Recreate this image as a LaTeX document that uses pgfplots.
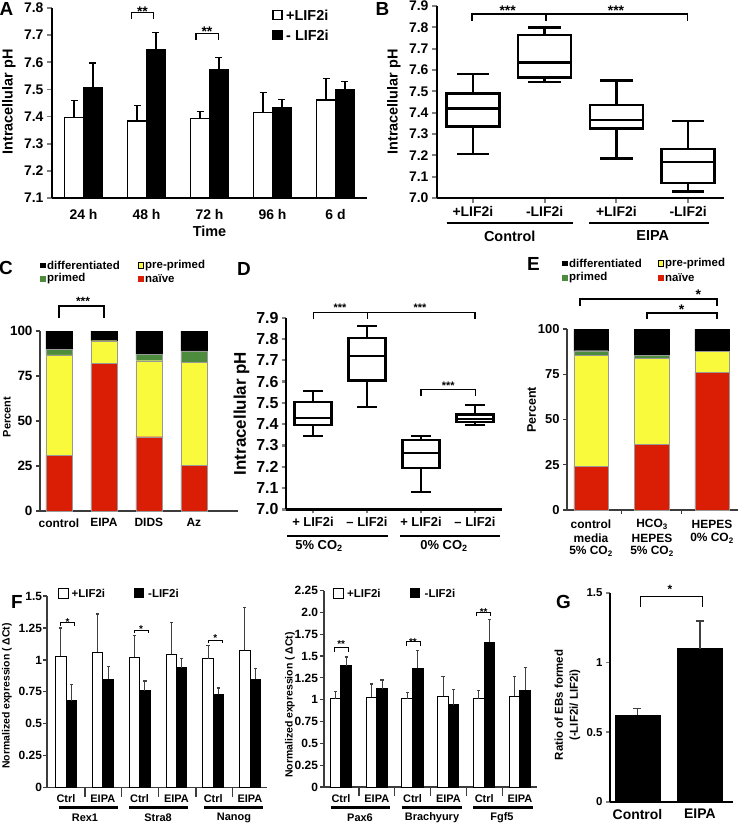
\documentclass[border=0pt]{standalone}
\usepackage{fontspec}
\setmainfont{Liberation Sans}
\usepackage{pgfplots}
\pgfplotsset{compat=1.18}
\newcommand\fs[1]{\fontsize{#1}{#1}\selectfont\bfseries}
\definecolor{naive}{RGB}{218,30,6}
\definecolor{preprimed}{RGB}{250,250,60}
\definecolor{primed}{RGB}{76,140,60}
\definecolor{axgray}{RGB}{60,60,60}
\pgfplotsset{
  panel/.style={scale only axis, anchor=south west, clip mode=individual,
    axis x line*=bottom, axis y line*=left, tick align=outside,
    major tick length=5bp, enlargelimits=false},
  boxline/.style={draw=black, line width=2.4bp, line cap=rect, line join=miter, mark=none},
}
\begin{document}
\begin{tikzpicture}
\useasboundingbox (0,0) rectangle (752bp,-824bp);

%% ---------- A ----------
\begin{axis}[panel, at={(52bp,-198bp)}, width=315bp, height=190bp,
  xmin=-0.5, xmax=4.5, ymin=7.1, ymax=7.8, ybar, bar width=0.3,
  xtick={0,1,2,3,4}, xticklabels={24 h,48 h,72 h,96 h,6 d},
  xtick style={draw=none},
  ytick={7.1,7.2,7.3,7.4,7.5,7.6,7.7,7.8},
  yticklabels={7.1,7.2,7.3,7.4,7.5,7.6,7.7,7.8},
  axis line style={-, line width=1.6bp}, ytick style={line width=1.6bp},
  tick label style={font=\fs{14}}, xticklabel style={yshift=-3bp}]
\addplot[fill=white, draw=black, line width=1.3bp, bar shift=-0.15,
  error bars/.cd, y dir=plus, y explicit, error bar style={line width=1.3bp},
  error mark options={rotate=90, mark size=3.5bp, line width=1.3bp}]
coordinates {(0,7.397) +- (0,0.061) (1,7.384) +- (0,0.057) (2,7.392) +- (0,0.026)
  (3,7.415) +- (0,0.073) (4,7.461) +- (0,0.078)};
\addplot[fill=black, draw=black, line width=1.3bp, bar shift=0.15,
  error bars/.cd, y dir=plus, y explicit, error bar style={line width=1.3bp},
  error mark options={rotate=90, mark size=3.5bp, line width=1.3bp}]
coordinates {(0,7.508) +- (0,0.089) (1,7.647) +- (0,0.064) (2,7.572) +- (0,0.046)
  (3,7.432) +- (0,0.031) (4,7.498) +- (0,0.031)};
\end{axis}

%% ---------- B ----------
\begin{axis}[panel, at={(437bp,-198bp)}, width=287bp, height=192bp,
  xmin=-0.5, xmax=3.5, ymin=7.0, ymax=7.9, unbounded coords=jump,
  xtick={0,1,2,3}, xticklabels={+LIF2i,-LIF2i,+LIF2i,-LIF2i},
  ytick={7.0,7.1,7.2,7.3,7.4,7.5,7.6,7.7,7.8,7.9},
  yticklabels={7.0,7.1,7.2,7.3,7.4,7.5,7.6,7.7,7.8,7.9},
  axis line style={-, line width=2.2bp}, tick style={line width=2.2bp},
  tick label style={font=\fs{14}}]
% whiskers, caps, box and median of each group
\addplot[boxline] coordinates {(0,7.205) (0,7.335) (nan,nan) (-0.21,7.205) (0.21,7.205) (nan,nan)
  (0,7.49) (0,7.58) (nan,nan) (-0.21,7.58) (0.21,7.58) (nan,nan)
  (-0.37,7.335) (0.37,7.335) (0.37,7.49) (-0.37,7.49) (-0.37,7.335) (nan,nan) (-0.37,7.42) (0.37,7.42)};
\addplot[boxline] coordinates {(1,7.545) (1,7.565) (nan,nan) (0.79,7.545) (1.21,7.545) (nan,nan)
  (1,7.765) (1,7.80) (nan,nan) (0.79,7.80) (1.21,7.80) (nan,nan)
  (0.63,7.565) (1.37,7.565) (1.37,7.765) (0.63,7.765) (0.63,7.565) (nan,nan) (0.63,7.635) (1.37,7.635)};
\addplot[boxline] coordinates {(2,7.185) (2,7.325) (nan,nan) (1.79,7.185) (2.21,7.185) (nan,nan)
  (2,7.435) (2,7.55) (nan,nan) (1.79,7.55) (2.21,7.55) (nan,nan)
  (1.63,7.325) (2.37,7.325) (2.37,7.435) (1.63,7.435) (1.63,7.325) (nan,nan) (1.63,7.365) (2.37,7.365)};
\addplot[boxline] coordinates {(3,7.03) (3,7.07) (nan,nan) (2.79,7.03) (3.21,7.03) (nan,nan)
  (3,7.23) (3,7.36) (nan,nan) (2.79,7.36) (3.21,7.36) (nan,nan)
  (2.63,7.07) (3.37,7.07) (3.37,7.23) (2.63,7.23) (2.63,7.07) (nan,nan) (2.63,7.17) (3.37,7.17)};
\end{axis}

%% ---------- C ----------
\begin{axis}[panel, at={(40bp,-511bp)}, width=198bp, height=180bp,
  xmin=-0.42, xmax=3.98, ymin=0, ymax=100, ybar stacked, bar width=0.58,
  xtick={0,1,2,3}, xticklabels={control,EIPA,DIDS,Az}, xtick style={draw=none},
  ytick={0,25,50,75,100}, yticklabels={0,25,50,75,100},
  axis line style={-, line width=1.5bp, axgray}, ytick style={line width=1.5bp, axgray},
  major tick length=4bp,
  yticklabel style={font=\fs{13.5}}, xticklabel style={font=\fs{12}}]
\addplot[fill=naive, draw=black!40, line width=0.3bp] coordinates {(0,31) (1,82) (2,41.3) (3,25.5)};
\addplot[fill=preprimed, draw=black!40, line width=0.3bp] coordinates {(0,55.7) (1,12.6) (2,42.2) (3,57.1)};
\addplot[fill=primed, draw=black!40, line width=0.3bp] coordinates {(0,3.1) (1,0) (2,3.7) (3,6.4)};
\addplot[fill=black, draw=black, line width=0.3bp] coordinates {(0,10.2) (1,5.4) (2,12.8) (3,11)};
\end{axis}

%% ---------- D ----------
\begin{axis}[panel, at={(286bp,-509.3bp)}, width=216bp, height=191.6bp,
  xmin=-0.5, xmax=3.5, ymin=7.0, ymax=7.9, unbounded coords=jump,
  xtick={0,1,2,3}, xticklabels={+ LIF2i,– LIF2i,+ LIF2i,– LIF2i},
  ytick={7.0,7.1,7.2,7.3,7.4,7.5,7.6,7.7,7.8,7.9},
  yticklabels={7.0,7.1,7.2,7.3,7.4,7.5,7.6,7.7,7.8,7.9},
  axis line style={-, line width=2.4bp}, tick style={line width=2.4bp},
  major tick length=4bp,
  yticklabel style={font=\fs{16}}, xticklabel style={font=\fs{13}}]
\addplot[boxline] coordinates {(0,7.345) (0,7.395) (nan,nan) (-0.17,7.345) (0.17,7.345) (nan,nan)
  (0,7.505) (0,7.555) (nan,nan) (-0.17,7.555) (0.17,7.555) (nan,nan)
  (-0.34,7.395) (0.34,7.395) (0.34,7.505) (-0.34,7.505) (-0.34,7.395) (nan,nan) (-0.34,7.43) (0.34,7.43)};
\addplot[boxline] coordinates {(1,7.48) (1,7.605) (nan,nan) (0.83,7.48) (1.17,7.48) (nan,nan)
  (1,7.805) (1,7.86) (nan,nan) (0.83,7.86) (1.17,7.86) (nan,nan)
  (0.66,7.605) (1.34,7.605) (1.34,7.805) (0.66,7.805) (0.66,7.605) (nan,nan) (0.66,7.72) (1.34,7.72)};
\addplot[boxline] coordinates {(2,7.08) (2,7.195) (nan,nan) (1.83,7.08) (2.17,7.08) (nan,nan)
  (2,7.325) (2,7.345) (nan,nan) (1.83,7.345) (2.17,7.345) (nan,nan)
  (1.66,7.195) (2.34,7.195) (2.34,7.325) (1.66,7.325) (1.66,7.195) (nan,nan) (1.66,7.265) (2.34,7.265)};
\addplot[boxline] coordinates {(3,7.395) (3,7.41) (nan,nan) (2.83,7.395) (3.17,7.395) (nan,nan)
  (3,7.445) (3,7.49) (nan,nan) (2.83,7.49) (3.17,7.49) (nan,nan)
  (2.66,7.41) (3.34,7.41) (3.34,7.445) (2.66,7.445) (2.66,7.41) (nan,nan) (2.66,7.425) (3.34,7.425)};
\end{axis}

%% ---------- E ----------
\begin{axis}[panel, at={(567bp,-510bp)}, width=171bp, height=181bp,
  xmin=-0.4, xmax=2.43, ymin=0, ymax=100, ybar stacked, bar width=0.57,
  xtick={0.5,1.5}, xticklabels={},
  ytick={0,25,50,75,100}, yticklabels={0,25,50,75,100},
  axis line style={-, line width=1.5bp, axgray}, tick style={line width=1.2bp, axgray},
  major tick length=4bp, yticklabel style={font=\fs{13}}]
\addplot[fill=naive, draw=black!40, line width=0.3bp] coordinates {(0,24.3) (1,36.3) (2,76.2)};
\addplot[fill=preprimed, draw=black!40, line width=0.3bp] coordinates {(0,61.3) (1,47.5) (2,11.6)};
\addplot[fill=primed, draw=black!40, line width=0.3bp] coordinates {(0,2.4) (1,1.8) (2,0)};
\addplot[fill=black, draw=black, line width=0.3bp] coordinates {(0,12) (1,14.4) (2,12.2)};
\end{axis}

%% ---------- F left ----------
\begin{axis}[panel, at={(47bp,-787.7bp)}, width=220bp, height=191.7bp,
  xmin=-0.52, xmax=5.46, ymin=0, ymax=1.5, ybar, bar width=0.285,
  xtick=\empty,
  ytick={0,0.25,0.5,0.75,1,1.25,1.5}, yticklabels={0,0.25,0.5,0.75,1,1.25,1.5},
  axis line style={-, line width=1.2bp, axgray}, ytick style={line width=1.2bp, axgray},
  major tick length=4bp, yticklabel style={font=\fs{12}, xshift=2.5bp}]
\addplot[fill=white, draw=black, line width=1bp, bar shift=-0.1425,
  error bars/.cd, y dir=plus, y explicit, error bar style={line width=1bp, black!75},
  error mark options={rotate=90, mark size=1.6bp, line width=1.2bp}]
coordinates {(0,1.03) +- (0,0.22) (1,1.06) +- (0,0.30) (2,1.02) +- (0,0.17)
  (3,1.046) +- (0,0.244) (4,1.01) +- (0,0.10) (5,1.075) +- (0,0.335)};
\addplot[fill=black, draw=black, line width=1bp, bar shift=0.1425,
  error bars/.cd, y dir=plus, y explicit, error bar style={line width=1bp, black!75},
  error mark options={rotate=90, mark size=1.6bp, line width=1.2bp}]
coordinates {(0,0.68) +- (0,0.13) (1,0.85) +- (0,0.10) (2,0.76) +- (0,0.075)
  (3,0.94) +- (0,0.07) (4,0.73) +- (0,0.05) (5,0.85) +- (0,0.085)};
\end{axis}

%% ---------- F right ----------
\begin{axis}[panel, at={(324bp,-787bp)}, width=212.7bp, height=196.4bp,
  xmin=-0.475, xmax=5.47, ymin=0, ymax=2.25, ybar, bar width=0.296,
  xtick=\empty,
  ytick={0,0.25,0.5,0.75,1,1.25,1.5,1.75,2,2.25},
  yticklabels={0,0.25,0.5,0.75,1,1.25,1.5,1.75,2.0,2.25},
  axis line style={-, line width=1.2bp, axgray}, ytick style={line width=1.2bp, axgray},
  major tick length=4bp, yticklabel style={font=\fs{12}, xshift=1.5bp}]
\addplot[fill=white, draw=black, line width=1bp, bar shift=-0.148,
  error bars/.cd, y dir=plus, y explicit, error bar style={line width=1bp, black!75},
  error mark options={rotate=90, mark size=1.6bp, line width=1.2bp}]
coordinates {(0,1.01) +- (0,0.08) (1,1.03) +- (0,0.15) (2,1.01) +- (0,0.07)
  (3,1.04) +- (0,0.23) (4,1.01) +- (0,0.10) (5,1.04) +- (0,0.23)};
\addplot[fill=black, draw=black, line width=1bp, bar shift=0.148,
  error bars/.cd, y dir=plus, y explicit, error bar style={line width=1bp, black!75},
  error mark options={rotate=90, mark size=1.6bp, line width=1.2bp}]
coordinates {(0,1.39) +- (0,0.10) (1,1.126) +- (0,0.10) (2,1.36) +- (0,0.20)
  (3,0.94) +- (0,0.18) (4,1.657) +- (0,0.263) (5,1.11) +- (0,0.256)};
\end{axis}

%% ---------- G ----------
\begin{axis}[panel, at={(610bp,-801.7bp)}, width=123bp, height=208.7bp,
  xmin=-0.44, xmax=1.53, ymin=0, ymax=1.5, ybar, bar width=0.72,
  xtick={0,1}, xticklabels={Control,EIPA}, xtick style={draw=none},
  ytick={0,0.5,1,1.5}, yticklabels={0,0.5,1,1.5},
  axis line style={-, line width=2bp}, ytick style={line width=1.6bp},
  major tick length=4bp, yticklabel style={font=\fs{11.5}}, xticklabel style={font=\fs{14}}]
\addplot[fill=black, draw=black, bar shift=0,
  error bars/.cd, y dir=plus, y explicit, error bar style={line width=1.3bp, black!75},
  error mark options={rotate=90, mark size=4bp, line width=1.8bp}]
coordinates {(0,0.62) +- (0,0.05) (1,1.10) +- (0,0.20)};
\end{axis}

%% ---------- annotations (pixel coordinates) ----------
\begin{scope}[x=1bp, y=-1bp, every node/.style={inner sep=0pt}]
% panel letters
\node[font=\fs{19}] at (6.5,9) {A};
\node[font=\fs{19}] at (382.5,8.5) {B};
\node[font=\fs{19}] at (6,268) {C};
\node[font=\fs{19}] at (244,268.5) {D};
\node[font=\fs{19}] at (533.5,264) {E};
\node[font=\fs{19}] at (17,601.5) {F};
\node[font=\fs{19}] at (563.5,601.5) {G};

% A
\node[rotate=90, font=\fs{14.5}] at (9,102) {Intracellular pH};
\node[font=\fs{14.5}] at (209.5,231) {Time};
\draw[line width=1.2bp, fill=white] (273,10.5) rectangle (282,19.5);
\node[anchor=west, font=\fs{14.5}] at (286,15) {+LIF2i};
\fill (272.4,29.9) rectangle (282.6,40.1);
\node[anchor=west, font=\fs{14.5}] at (286,35) {- LIF2i};
\draw[line width=1.3bp] (131.7,19.3) -- (131.7,12.7) -- (153.3,12.7) -- (153.3,19.3);
\node[anchor=base, font=\fs{14}] at (142.5,16.2) {**};
\draw[line width=1.3bp] (196,40) -- (196,33.3) -- (218.3,33.3) -- (218.3,40);
\node[anchor=base, font=\fs{14}] at (207,36.8) {**};

% B
\node[rotate=90, font=\fs{14.5}] at (394,102) {Intracellular pH};
\draw[line width=2.2bp] (446.7,223) -- (572.7,223);
\draw[line width=2.2bp] (589.3,223) -- (709.3,223);
\node[font=\fs{14.5}] at (509.7,236) {Control};
\node[font=\fs{14.5}] at (652.7,236) {EIPA};
\draw[line width=1.5bp] (472,20.7) -- (472,14) -- (687.7,14) -- (687.7,20.7);
\draw[line width=1.5bp] (546,14) -- (546,20.7);
\node[anchor=base, font=\fs{14}] at (507.7,15.9) {***};
\node[anchor=base, font=\fs{14}] at (616,15.9) {***};

% C
\node[rotate=90, font=\fs{11}] at (7,417) {Percent};
\fill (40,262.5) rectangle (45.5,268);
\node[anchor=west, font=\fs{11.5}] at (47,265.3) {differentiated};
\draw[line width=0.5bp, fill=preprimed] (138,262.5) rectangle (143.5,268);
\node[anchor=west, font=\fs{11.5}] at (145,265.3) {pre-primed};
\fill[primed] (40,276) rectangle (45.5,281.5);
\node[anchor=west, font=\fs{11.5}] at (47,278.8) {primed};
\fill[naive] (138,276) rectangle (143.5,281.5);
\node[anchor=west, font=\fs{11.5}] at (145,278.8) {naïve};
\draw[line width=1.2bp] (59,317.7) -- (59,306) -- (104,306) -- (104,317.7);
\node[anchor=base, font=\fs{12}] at (83,305.2) {***};

% D
\node[rotate=90, font=\fs{17}] at (241.5,413.5) {Intracellular pH};
\draw[line width=2.2bp] (287,536) -- (388,536);
\draw[line width=2.2bp] (400,536) -- (500,536);
\node[font=\fs{13}] at (319,546) {5\% CO\textsubscript{2}};
\node[font=\fs{13}] at (444,546) {0\% CO\textsubscript{2}};
\draw[line width=1.2bp] (313.3,319.3) -- (313.3,312.7) -- (475,312.7) -- (475,319.3);
\draw[line width=1.6bp] (367.3,312.7) -- (367.3,319.3);
\node[anchor=base, font=\fs{11}] at (340,311.3) {***};
\node[anchor=base, font=\fs{11}] at (420,311.3) {***};
\draw[line width=1.2bp] (421,396) -- (421,389.3) -- (475.7,389.3) -- (475.7,396);
\node[anchor=base, font=\fs{11}] at (448.3,389.1) {***};

% E
\node[rotate=90, font=\fs{12.5}] at (531.7,410) {Percent};
\fill (562,260.5) rectangle (567.5,266);
\node[anchor=west, font=\fs{11.5}] at (569,263.3) {differentiated};
\draw[line width=0.5bp, fill=preprimed] (658,260.5) rectangle (663.5,266);
\node[anchor=west, font=\fs{11.5}] at (665,263.3) {pre-primed};
\fill[primed] (562,275) rectangle (567.5,280.5);
\node[anchor=west, font=\fs{11.5}] at (569,277.8) {primed};
\fill[naive] (658,275) rectangle (663.5,280.5);
\node[anchor=west, font=\fs{11.5}] at (665,277.8) {naïve};
\draw[line width=1.2bp] (580,306) -- (580,299) -- (717,299) -- (717,306);
\node[anchor=base, font=\fs{14}] at (698.3,299.5) {*};
\draw[line width=1.2bp] (647,319) -- (647,313) -- (717,313) -- (717,319);
\node[anchor=base, font=\fs{14}] at (681.7,314) {*};
\node[font=\fs{12}] at (591,524) {control};
\node[font=\fs{12}] at (591,538) {media};
\node[font=\fs{12}] at (591,551.5) {5\% CO\textsubscript{2}};
\node[font=\fs{12}] at (652,524) {HCO\textsubscript{3}};
\node[font=\fs{12}] at (652,538) {HEPES};
\node[font=\fs{12}] at (652,551.5) {5\% CO\textsubscript{2}};
\node[font=\fs{12}] at (712,524) {HEPES};
\node[font=\fs{12}] at (712,538) {0\% CO\textsubscript{2}};

% F left
\node[rotate=90, font=\fs{10.5}] at (7,696) {Normalized expression ( ΔCt)};
\draw[line width=1bp, fill=white] (58,588) rectangle (68,598);
\node[anchor=west, font=\fs{11.5}] at (71.5,593) {+LIF2i};
\fill (134,588) rectangle (144,598);
\node[anchor=west, font=\fs{11.5}] at (148,593) {-LIF2i};
\foreach \x in {85,121.7,158.3,196,232.7} \draw[line width=1.2bp, axgray] (\x,787.7) -- (\x,796.7);
\foreach \x/\t in {66/Ctrl,102.8/EIPA,139.6/Ctrl,176.4/EIPA,213.2/Ctrl,250/EIPA}
  \node[font=\fs{11}] at (\x,798.5) {\t};
\draw[line width=2.5bp] (59,807.7) -- (117.7,807.7);
\draw[line width=2.5bp] (129,807.7) -- (187.7,807.7);
\draw[line width=2.5bp] (204,807.7) -- (262.7,807.7);
\node[font=\fs{11}] at (85,817.5) {Rex1};
\node[font=\fs{11}] at (158,817.5) {Stra8};
\node[font=\fs{11}] at (234,817.5) {Nanog};
\draw[line width=1bp] (60.7,626) -- (60.7,622.3) -- (74.3,622.3) -- (74.3,626);
\node[anchor=base, font=\fs{10}] at (67.5,625.5) {*};
\draw[line width=1bp] (134.3,633.3) -- (134.3,630) -- (148.3,630) -- (148.3,633.3);
\node[anchor=base, font=\fs{10}] at (141,632) {*};
\draw[line width=1bp] (208,643.3) -- (208,640) -- (222.7,640) -- (222.7,643.3);
\node[anchor=base, font=\fs{10}] at (215.3,641.8) {*};

% F right
\node[rotate=90, font=\fs{10.5}] at (290,705) {Normalized expression ( ΔCt)};
\draw[line width=1bp, fill=white] (333.3,588) rectangle (343.3,598);
\node[anchor=west, font=\fs{11.5}] at (347,593) {+LIF2i};
\fill (410,588) rectangle (420,598);
\node[anchor=west, font=\fs{11.5}] at (424.5,593) {-LIF2i};
\foreach \x in {358.9,394.7,430.5,466.3,502.1} \draw[line width=1.2bp, axgray] (\x,787) -- (\x,796);
\foreach \x/\t in {341/Ctrl,376.8/EIPA,412.6/Ctrl,448.4/EIPA,484.2/Ctrl,520/EIPA}
  \node[font=\fs{11}] at (\x,798.5) {\t};
\draw[line width=2.5bp] (330.7,807.7) -- (390,807.7);
\draw[line width=2.5bp] (401.7,807.7) -- (461.7,807.7);
\draw[line width=2.5bp] (473.3,807.7) -- (532.7,807.7);
\node[font=\fs{11}] at (360,817.5) {Pax6};
\node[font=\fs{11}] at (432,817.5) {Brachyury};
\node[font=\fs{11}] at (502,817.5) {Fgf5};
\draw[line width=1bp] (334,651.7) -- (334,647.7) -- (348.3,647.7) -- (348.3,651.7);
\node[anchor=base, font=\fs{10}] at (341.2,647) {**};
\draw[line width=1bp] (406,645.7) -- (406,641.7) -- (420,641.7) -- (420,645.7);
\node[anchor=base, font=\fs{10}] at (413,645) {**};
\draw[line width=1bp] (476.7,616.3) -- (476.7,612.3) -- (490.7,612.3) -- (490.7,616.3);
\node[anchor=base, font=\fs{10}] at (483.7,615.7) {**};

% G
\node[rotate=90, align=center, font=\fontsize{11.5}{15}\selectfont\bfseries] at (567.5,705)
  {Ratio of EBs formed\\(-LIF2i/ LIF2i)};
\draw[line width=1bp] (640,607) -- (640,596) -- (702,596) -- (702,607);
\node[anchor=base, font=\fs{12}] at (670,593.6) {*};
\end{scope}
\end{tikzpicture}
\end{document}
